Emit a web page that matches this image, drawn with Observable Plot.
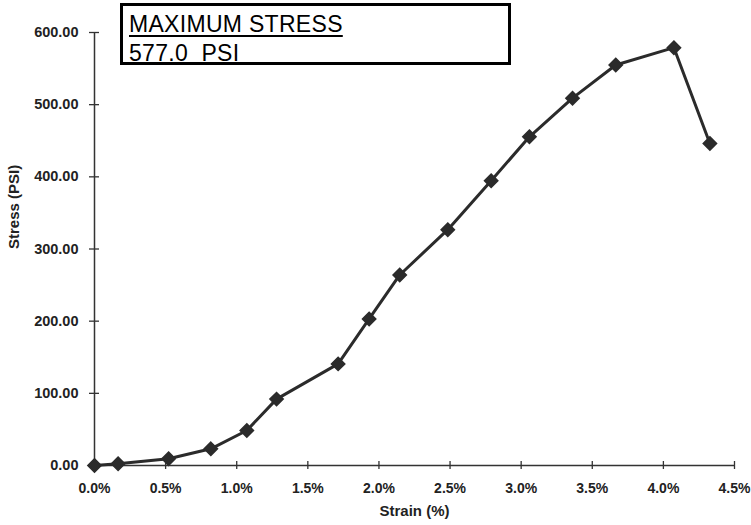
<!DOCTYPE html>
<html><head><meta charset="utf-8">
<script src="https://cdn.jsdelivr.net/npm/d3@7"></script>
<script src="https://cdn.jsdelivr.net/npm/@observablehq/plot@0.6"></script>
<style>
body{margin:0;background:#fff;}
#wrap{position:relative;width:751px;height:525px;}
#box{position:absolute;left:120px;top:3px;width:385px;height:56px;border:3px solid #000;background:#fff;font-family:Arial,"Liberation Sans",sans-serif;font-size:23px;line-height:23px;color:#000;letter-spacing:0.3px;}
#box div{position:absolute;left:6px;white-space:pre;}
#l1{top:6.5px;text-decoration:underline;text-decoration-thickness:2px;text-underline-offset:3px;}
#l2{top:35.5px;}
</style>
</head><body>
<div id="wrap">
<div id="chart"></div>
<div id="box"><div id="l1">MAXIMUM STRESS</div><div id="l2">577.0  PSI</div></div>
</div>
<script>
const strain = [0, 0.166, 0.521, 0.818, 1.071, 1.280, 1.713, 1.931, 2.146, 2.484, 2.789, 3.058, 3.361, 3.665, 4.074, 4.327];
const stress = [0, 2.4, 9.3, 23.1, 48.5, 92, 140.8, 203.1, 264, 326.8, 394.6, 455.5, 509, 555, 579, 446.3];
const xTicks = [0, 0.5, 1.0, 1.5, 2.0, 2.5, 3.0, 3.5, 4.0, 4.5];
const yTicks = [0, 100, 200, 300, 400, 500, 600];
const xLabel = "Strain (%)";
const yLabel = "Stress (PSI)";
const data = strain.map((s, i) => ({strain: s, stress: stress[i]}));
const ink = "#2b2b2b";
const font = "Arial, 'Liberation Sans', sans-serif";
const chart = Plot.plot({
  width: 751, height: 525,
  marginLeft: 94, marginRight: 17, marginTop: 32, marginBottom: 60,
  x: {domain: [0, 4.5]},
  y: {domain: [0, 600]},
  style: {fontFamily: font, fontSize: "14px", fontWeight: "bold", color: "#222", background: "#fff"},
  marks: [
    Plot.ruleX([0], {stroke: "#333", strokeWidth: 1.5}),
    Plot.ruleY([0], {stroke: "#333", strokeWidth: 1.5}),
    Plot.axisY(yTicks, {tickSize: 10, dx: 5, tickFormat: () => "", label: null, stroke: "#333", strokeWidth: 1.3}),
    Plot.axisY(yTicks, {tickSize: 0, tickPadding: 16, tickFormat: d => d.toFixed(2), label: null, fontSize: 14.5, fontWeight: "bold", fill: "#222"}),
    Plot.axisX(xTicks, {tickSize: 8, dy: -4, tickFormat: () => "", label: null, stroke: "#333", strokeWidth: 1.3}),
    Plot.axisX(xTicks, {tickSize: 0, tickPadding: 18, tickFormat: d => d.toFixed(1) + "%", label: null, fontSize: 14, fontWeight: "bold", fill: "#222"}),
    Plot.line(data, {x: "strain", y: "stress", stroke: ink, strokeWidth: 3}),
    Plot.dot(data, {x: "strain", y: "stress", symbol: "diamond2", r: 6, fill: ink, stroke: ink}),
    Plot.text([yLabel], {frameAnchor: "left", rotate: -90, dx: -80, fontSize: 15, fontWeight: "bold", fill: "#222", letterSpacing: "0.3px"}),
    Plot.text([xLabel], {frameAnchor: "bottom", dy: 50, fontSize: 15, fontWeight: "bold", fill: "#222", letterSpacing: "0.3px"})
  ]
});
document.getElementById("chart").appendChild(chart);
</script>
</body></html>
